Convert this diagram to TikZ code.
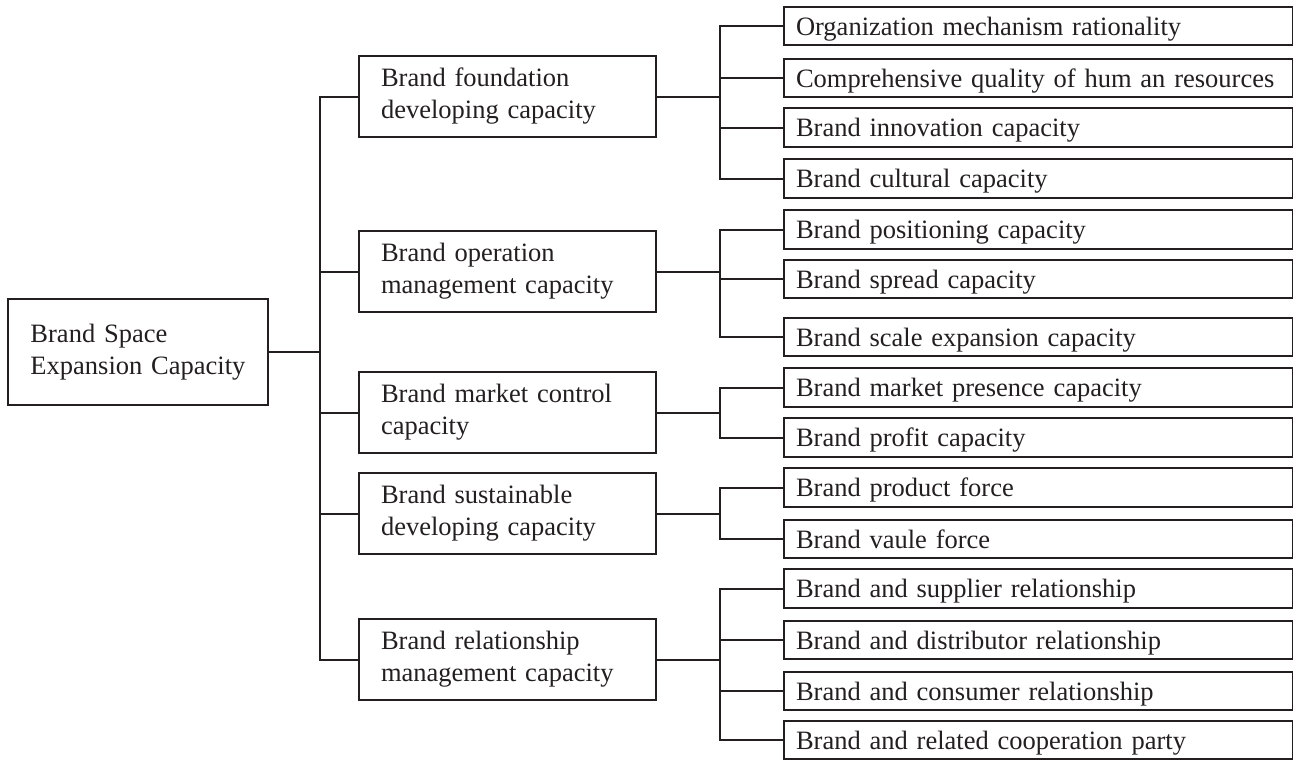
\documentclass[tikz,border=0pt]{standalone}
\usepackage{fontspec}
\setmainfont{Liberation Serif}
\definecolor{ink}{HTML}{231F20}
\tikzset{
  box/.style={draw=ink, text=ink, line width=2pt, font=\fontsize{26.5}{32}\selectfont, align=left, inner ysep=0pt, anchor=west},
  rootbox/.style={box, text width=215pt, inner xsep=22.5pt, minimum height=106pt},
  midbox/.style={box, text width=253pt, inner xsep=22pt, minimum height=81pt},
  subbox/.style={box, text width=485pt, inner xsep=12pt, text depth=0pt, minimum height=38.5pt},
  link/.style={draw=ink, line width=2pt, line cap=rect}
}
\begin{document}
\begin{tikzpicture}[x=1pt, y=-1pt]
\useasboundingbox (0,0) rectangle (1293,760);
\coordinate (sp0) at (320,0);
\coordinate (sp1) at (720,0);
\node[rootbox] (cap0) at (7,352){Brand Space\\Expansion Capacity};
\node[midbox] (cap1) at (358,96.5){Brand foundation\\developing capacity};
\node[midbox] (cap2) at (358,271.5){Brand operation\\management capacity};
\node[midbox] (cap3) at (358,412.5){Brand market control\\capacity};
\node[midbox] (cap4) at (358,513.5){Brand sustainable\\developing capacity};
\node[midbox] (cap5) at (358,659.5){Brand relationship\\management capacity};
\node[subbox] (sub1) at (783,26){Organization mechanism rationality};
\node[subbox] (sub2) at (783,78){Comprehensive quality of hum an resources};
\node[subbox] (sub3) at (783,127.5){Brand innovation capacity};
\node[subbox] (sub4) at (783,178.5){Brand cultural capacity};
\node[subbox] (sub5) at (783,229.5){Brand positioning capacity};
\node[subbox] (sub6) at (783,279){Brand spread capacity};
\node[subbox] (sub7) at (783,337){Brand scale expansion capacity};
\node[subbox] (sub8) at (783,387.5){Brand market presence capacity};
\node[subbox] (sub9) at (783,437.5){Brand profit capacity};
\node[subbox] (sub10) at (783,487.5){Brand product force};
\node[subbox] (sub11) at (783,539){Brand vaule force};
\node[subbox] (sub12) at (783,588.5){Brand and supplier relationship};
\node[subbox] (sub13) at (783,640){Brand and distributor relationship};
\node[subbox] (sub14) at (783,691){Brand and consumer relationship};
\node[subbox] (sub15) at (783,740){Brand and related cooperation party};

\draw[link](cap0.east) -- (cap0.east -| sp0);
\draw[link](sp0 |- cap1.west) -- (sp0 |- cap5.west);
\foreach \m in {1,...,5}
  \draw[link](sp0 |- cap\m.west) -- (cap\m.west);
\foreach \m/\a/\b in {1/1/4, 2/5/7, 3/8/9, 4/10/11, 5/12/15}{
  \draw[link](cap\m.east) -- (cap\m.east -| sp1);
  \draw[link](sp1 |- sub\a.west) -- (sp1 |- sub\b.west);
}
\foreach \s in {1,...,15}
  \draw[link](sp1 |- sub\s.west) -- (sub\s.west);

\end{tikzpicture}
\end{document}
